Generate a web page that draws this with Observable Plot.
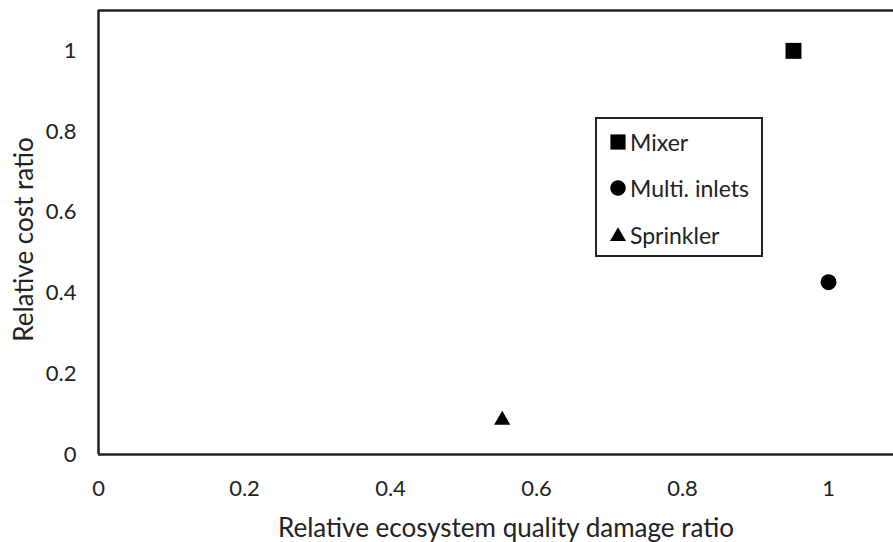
<!DOCTYPE html>
<html>
<head>
<meta charset="utf-8">
<script src="https://cdn.jsdelivr.net/npm/d3@7"></script>
<script src="https://cdn.jsdelivr.net/npm/@observablehq/plot@0.6"></script>
<style>
  html, body { margin: 0; padding: 0; background: #fff; }
  #wrap { position: relative; width: 893px; height: 542px; overflow: hidden; font-family: Lato, "Open Sans", sans-serif; color: #222; }
  #legend { position: absolute; left: 595px; top: 117px; width: 164px; height: 136px; border: 2.5px solid #222; background: #fff; }
  .item { position: absolute; left: 12px; display: flex; align-items: center; font-size: 23px; line-height: 26px; }
  .item svg { margin-right: 3px; }
</style>
</head>
<body>
<div id="wrap"></div>
<script>
const technologies = ["Mixer", "Multi. inlets", "Sprinkler"];
const ecosystemDamage = [0.952, 1.0, 0.553];
const costRatio = [1.0, 0.427, 0.085];
const symbols = ["square", "circle", "triangle"];
const symbolRadius = [9, 8, 6];
const xTicks = [0, 0.2, 0.4, 0.6, 0.8, 1];
const yTicks = [0, 0.2, 0.4, 0.6, 0.8, 1];

const data = technologies.map((t, i) => ({
  name: t, x: ecosystemDamage[i], y: costRatio[i], symbol: symbols[i], r: symbolRadius[i]
}));

const chart = Plot.plot({
  width: 893,
  height: 542,
  marginLeft: 98,
  marginRight: 0,
  marginTop: 10,
  marginBottom: 88,
  style: { fontFamily: "Lato, 'Open Sans', sans-serif", fontSize: "22px", color: "#222", background: "#fff" },
  x: { domain: [0, 1.089], ticks: xTicks, tickFormat: d => String(d), label: null },
  y: { domain: [0, 1.1], ticks: yTicks, tickFormat: d => String(d), label: null },
  symbol: { type: "identity" },
  r: { type: "identity" },
  marks: [
    Plot.axisX({ ticks: xTicks, tickSize: 0, tickPadding: 26, tickFormat: d => String(d),
      label: "Relative ecosystem quality damage ratio", labelAnchor: "center", labelOffset: 82, labelArrow: "none" }),
    Plot.axisY({ ticks: yTicks, tickSize: 0, tickPadding: 22, tickFormat: d => String(d),
      label: "Relative cost ratio", labelAnchor: "center", labelOffset: 84, labelArrow: "none" }),
    Plot.ruleX([0], { stroke: "#222", strokeWidth: 2.5 }),
    Plot.ruleY([0], { stroke: "#222", strokeWidth: 2.5 }),
    Plot.ruleY([1.1], { stroke: "#222", strokeWidth: 2.5 }),
    Plot.dot(data, { x: "x", y: "y", symbol: "symbol", r: "r", fill: "#000", stroke: "none" })
  ]
});
const wrap = document.getElementById("wrap");
wrap.appendChild(chart);
// enlarge axis titles and nudge them like the reference
d3.select(chart).selectAll("g[aria-label='x-axis label'] text")
  .style("font-size", "26px").attr("dx", 10);
d3.select(chart).selectAll("g[aria-label='y-axis label'] text")
  .style("font-size", "26px").attr("dx", -7);

// legend
const legend = document.createElement("div");
legend.id = "legend";
const legendTops = [10, 56, 103];
technologies.forEach((t, i) => {
  const item = document.createElement("div");
  item.className = "item";
  item.style.top = legendTops[i] + "px";
  const sym = d3.symbol(i === 0 ? d3.symbolSquare : i === 1 ? d3.symbolCircle : d3.symbolTriangle,
    i === 0 ? 230 : i === 1 ? 190 : 111)();
  item.innerHTML = `<svg width="18" height="18" viewBox="-9 -9 18 18"><path d="${sym}" fill="#000" transform="${i===2 ? 'translate(0,1.5)' : ''}"/></svg><span>${t}</span>`;
  legend.appendChild(item);
});
wrap.appendChild(legend);
</script>
</body>
</html>
